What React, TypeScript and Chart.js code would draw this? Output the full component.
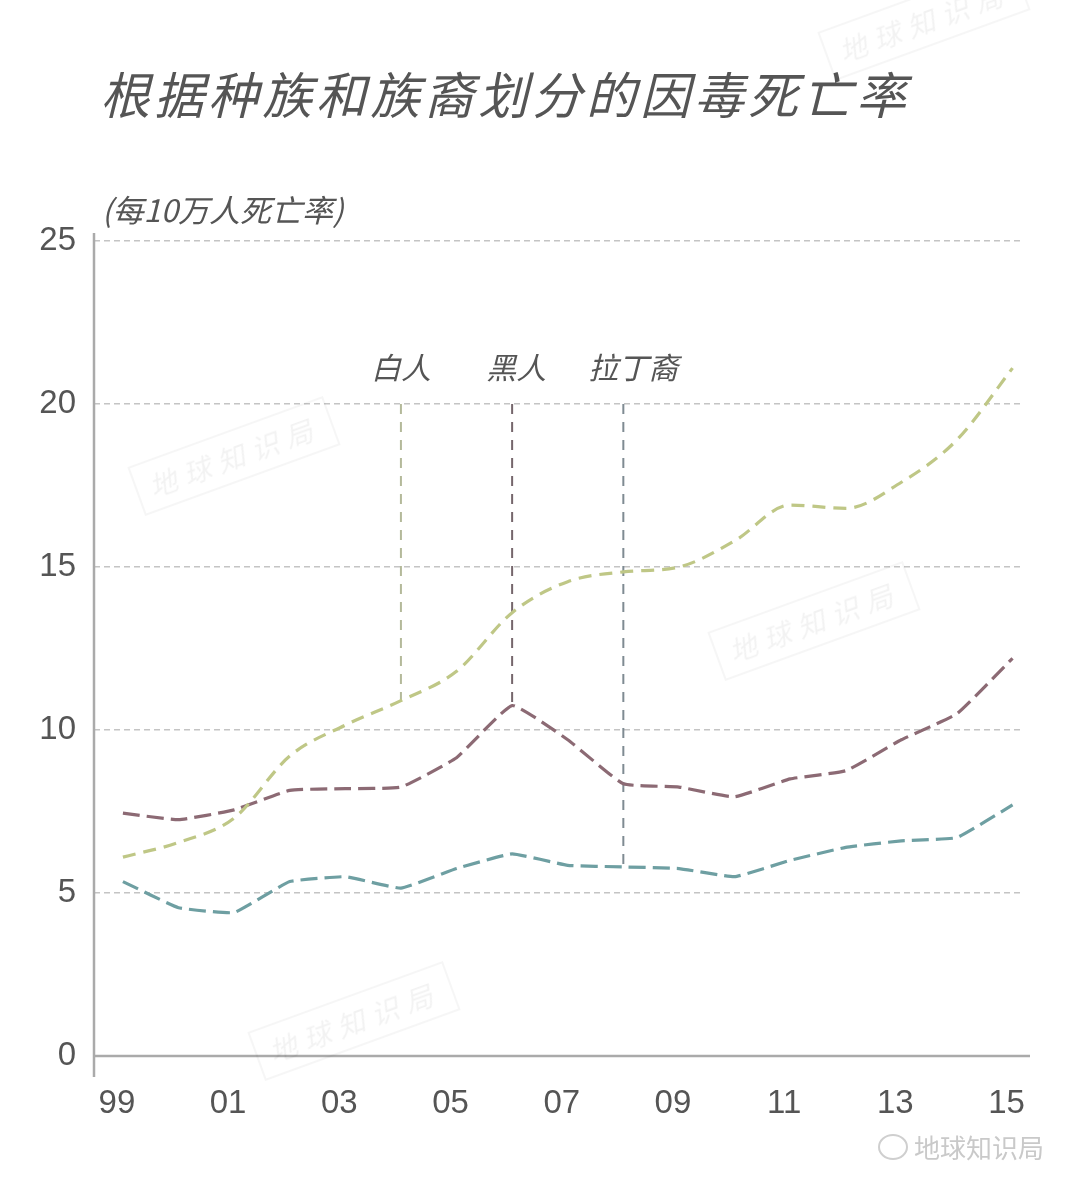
import { useEffect, useRef } from "react";
import { Chart, registerables } from "chart.js";

Chart.register(...registerables);

// years 1999–2015
const years = [1999, 2000, 2001, 2002, 2003, 2004, 2005, 2006, 2007, 2008, 2009, 2010, 2011, 2012, 2013, 2014, 2015];
const whiteRate = [6.1, 6.55, 7.3, 9.2, 10.15, 10.9, 11.8, 13.6, 14.55, 14.85, 15.0, 15.8, 16.9, 16.8, 17.6, 18.9, 21.1];
const blackRate = [7.45, 7.25, 7.55, 8.15, 8.2, 8.25, 9.15, 10.75, 9.7, 8.35, 8.25, 7.95, 8.5, 8.75, 9.7, 10.5, 12.2];
const hispanicRate = [5.35, 4.55, 4.4, 5.35, 5.5, 5.15, 5.75, 6.2, 5.85, 5.8, 5.75, 5.5, 6.0, 6.4, 6.6, 6.7, 7.7];

const tickYears = [1999, 2001, 2003, 2005, 2007, 2009, 2011, 2013, 2015];
const tickLabels = ["99", "01", "03", "05", "07", "09", "11", "13", "15"];

// label text, year the pointer sits on, series it points at
const seriesLabels = ["白人", "黑人", "拉丁裔"];
const labelYears = [2004, 2006, 2008];
const labelTop = 20;

const GREEN = "#bfc786";
const MAUVE = "#8c6a74";
const TEAL = "#6e9fa2";
const AXIS = "#aaaaaa";
const TEXT = "#555555";
const CJK = '"Noto Sans CJK SC", "Noto Sans", sans-serif';
const NUM = '"Liberation Sans", Arial, sans-serif';

const toPoints = (vals: number[]) => vals.map((v, i) => ({ x: years[i], y: v }));

export default function App() {
  const canvasRef = useRef<HTMLCanvasElement>(null);

  useEffect(() => {
    document.body.style.margin = "0";
    const canvas = canvasRef.current;
    if (!canvas) return;
    Chart.getChart(canvas)?.destroy();

    const allSeries = [whiteRate, blackRate, hispanicRate];
    const pointerColors = ["#b4b99a", "#75666c", "#7f8b92"];

    const pointerSets = labelYears.map((yr, i) => ({
      data: [
        { x: yr, y: labelTop },
        { x: yr, y: allSeries[i][years.indexOf(yr)] },
      ],
      borderColor: pointerColors[i],
      borderWidth: 2,
      borderDash: [10, 8],
      pointRadius: 0,
      tension: 0,
    }));

    const frame = {
      id: "frame",
      afterDraw(chart: any) {
        const { ctx, scales } = chart;
        const x = scales.x;
        const y = scales.y;
        ctx.save();
        ctx.strokeStyle = AXIS;
        ctx.lineWidth = 2.5;
        ctx.beginPath();
        ctx.moveTo(x.left, y.getPixelForValue(25) - 8);
        ctx.lineTo(x.left, y.getPixelForValue(0) + 21);
        ctx.moveTo(x.left, y.getPixelForValue(0));
        ctx.lineTo(x.right + 8, y.getPixelForValue(0));
        ctx.stroke();

        ctx.fillStyle = TEXT;
        ctx.font = `italic 30px ${CJK}`;
        ctx.textAlign = "center";
        ctx.textBaseline = "middle";
        const offsets = [0, 4, 10];
        seriesLabels.forEach((t, i) => {
          ctx.fillText(t, x.getPixelForValue(labelYears[i]) + offsets[i], y.getPixelForValue(labelTop) - 36);
        });
        ctx.restore();
      },
    };

    const chart = new Chart(canvas, {
      type: "line",
      data: {
        datasets: [
          {
            data: toPoints(whiteRate),
            borderColor: GREEN,
            borderWidth: 3.2,
            borderDash: [13, 8],
            pointRadius: 0,
            cubicInterpolationMode: "monotone",
          },
          {
            data: toPoints(blackRate),
            borderColor: MAUVE,
            borderWidth: 3.2,
            borderDash: [17, 7],
            pointRadius: 0,
            tension: 0.12,
          },
          {
            data: toPoints(hispanicRate),
            borderColor: TEAL,
            borderWidth: 3.2,
            borderDash: [17, 7],
            pointRadius: 0,
            tension: 0.1,
          },
          ...pointerSets,
        ] as any,
      },
      options: {
        animation: false,
        responsive: false,
        devicePixelRatio: 1,
        layout: { padding: { top: 241, right: 58, left: 0, bottom: 0 } },
        plugins: { legend: { display: false }, tooltip: { enabled: false } },
        scales: {
          x: {
            type: "linear",
            min: 1998.48,
            max: 2015.17,
            border: { display: false },
            grid: { display: false, drawTicks: false },
            afterBuildTicks: (s: any) => {
              s.ticks = tickYears.map((v) => ({ value: v }));
            },
            afterFit: (s: any) => {
              s.height = 139;
            },
            ticks: {
              padding: 28,
              labelOffset: -6,
              color: TEXT,
              font: { size: 33, family: NUM },
              callback: (v: any) => tickLabels[tickYears.indexOf(Number(v))] ?? "",
            },
          },
          y: {
            min: 0,
            max: 25,
            border: { display: false },
            grid: {
              drawTicks: false,
              color: (c: any) => (c.tick && c.tick.value === 0 ? "rgba(0,0,0,0)" : "#c4c4c4"),
              lineWidth: 1.5,
            },
            afterFit: (s: any) => {
              s.width = 94;
            },
            ticks: {
              stepSize: 5,
              padding: 18,
              color: TEXT,
              font: { size: 33, family: NUM },
            },
          },
        },
      },
      plugins: [frame],
    } as any);

    // dashed horizontal grid
    (chart.options.scales as any).y.grid.borderDash = [6, 4];
    (chart.options.scales as any).y.border.dash = [6, 4];
    chart.update();

    return () => chart.destroy();
  }, []);

  const mark = (left: number, top: number, rot: number) => (
    <div
      style={{
        position: "absolute",
        left,
        top,
        transform: `rotate(${rot}deg)`,
        border: "2px solid rgba(0,0,0,0.035)",
        padding: "4px 12px",
        color: "rgba(0,0,0,0.05)",
        font: `italic 28px ${CJK}`,
        letterSpacing: 8,
        pointerEvents: "none",
      }}
    >
      地球知识局
    </div>
  );

  return (
    <div style={{ position: "relative", width: 1080, height: 1195, background: "#fff", overflow: "hidden" }}>
      <canvas ref={canvasRef} width={1080} height={1195} style={{ position: "absolute", left: 0, top: 0 }} />
      <div
        style={{
          position: "absolute",
          left: 100,
          top: 56,
          font: `italic 50px ${CJK}`,
          letterSpacing: 4,
          color: TEXT,
          whiteSpace: "nowrap",
        }}
      >
        根据种族和族裔划分的因毒死亡率
      </div>
      <div
        style={{
          position: "absolute",
          left: 102,
          top: 186,
          font: `italic 31px ${CJK}`,
          color: TEXT,
          whiteSpace: "nowrap",
        }}
      >
        (每10万人死亡率)
      </div>
      {mark(130, 430, -20)}
      {mark(710, 595, -20)}
      {mark(250, 995, -20)}
      {mark(820, -5, -20)}
      <div
        style={{
          position: "absolute",
          left: 878,
          top: 1128,
          font: `26px ${CJK}`,
          color: "#c9c9c9",
          whiteSpace: "nowrap",
          display: "flex",
          alignItems: "center",
          gap: 6,
        }}
      >
        <span
          style={{
            display: "inline-block",
            width: 26,
            height: 22,
            border: "2px solid #cfcfcf",
            borderRadius: "50%",
          }}
        />
        地球知识局
      </div>
    </div>
  );
}
